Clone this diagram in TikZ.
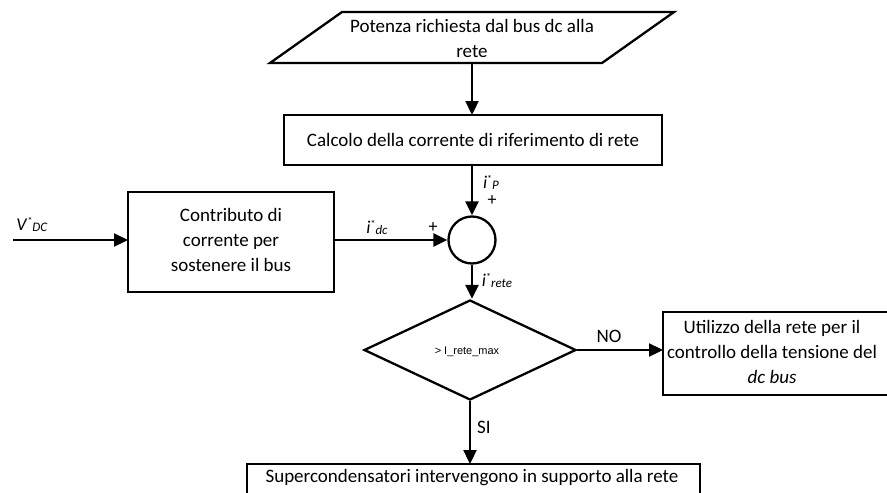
\documentclass[tikz,border=0pt]{standalone}
\usepackage{fontspec}
\setmainfont{Carlito}
\newfontfamily\arialfont{Liberation Sans}
\usetikzlibrary{arrows.meta,shapes.geometric}
\tikzset{
  box/.style={draw,line width=2.3pt,inner sep=0pt,outer sep=0pt},
  txt/.style={inner sep=0pt,align=center,font=\fontsize{19}{25}\selectfont},
  lbl/.style={inner sep=0pt,font=\fontsize{18}{20}\selectfont},
  arr/.style={line width=2.3pt,-{Triangle[length=14pt,width=13pt]}},
}
\newcommand{\curr}[2]{\textit{#1}\raisebox{6pt}{\fontsize{10}{10}\selectfont *}\raisebox{-1pt}{\fontsize{13}{13}\selectfont\textit{#2}}}
\begin{document}
\begin{tikzpicture}[x=1pt,y=-1pt]
\useasboundingbox (0,0) rectangle (887,493);
% input parallelogram
\draw[line width=2.3pt,line join=miter] (342,12) -- (674,12) -- (602,63) -- (270,63) -- cycle;
\node[txt] (inp) at (472,38) {Potenza richiesta dal bus dc alla\\rete};
\coordinate (inpb) at (472,63);
% calc box
\node[box,minimum width=378pt,minimum height=50pt] (calc) at (473,140) {};
\node[txt] (calct) at (473,140) {Calcolo della corrente di riferimento di rete};
% left box
\node[box,minimum width=206pt,minimum height=100pt] (contr) at (231,242) {};
\node[txt] (contrt) at (231,240) {Contributo di\\corrente per\\sostenere il bus};
\coordinate (vin) at (13,240);
% sum circle
\node[draw,circle,line width=2.3pt,minimum size=47pt,inner sep=0pt] (sum) at (472,240) {};
% diamond
\node[draw,diamond,line width=2.3pt,minimum width=212pt,minimum height=100pt,inner sep=0pt] (dec) at (470,350) {};
\node[inner sep=0pt,font=\arialfont\fontsize{11}{12}\selectfont] (dect) at (467,352) {> I\_rete\_max};
% right box
\node[box,minimum width=229pt,minimum height=83pt] (use) at (777.5,353.5) {};
\node[txt] (uset) at (772,352) {Utilizzo della rete per il\\controllo della tensione del\\\textit{dc bus}};
% bottom box
\node[box,minimum width=453pt,minimum height=44pt] (sup) at (473.5,486) {};
\node[txt] (supt) at (472,478) {Supercondensatori intervengono in supporto alla rete};
% connectors
\draw[arr] (inpb) -- (calc.north -| inpb);
\draw[arr] (calc.south -| sum) -- (sum.north);
\draw[arr] (vin) -- (contr.west |- vin);
\draw[arr] (contr.east |- sum) -- (sum.west);
\draw[arr] (sum.south) -- (sum.south |- dec.north);
\draw[arr] (dec.east) -- (use.west |- dec.east);
\draw[arr] (dec.south) -- (sup.north -| dec.south);
% labels
\node[lbl] (lv) at (32,224) {\curr{V}{DC}};
\node[lbl] (ldc) at (377,227) {\curr{i}{dc}};
\node[lbl] (lp) at (491,182) {\curr{i}{P}};
\node[lbl] (lr) at (497,280) {\curr{i}{rete}};
\node[lbl] (pl1) at (492,201) {+};
\node[lbl] (pl2) at (433,228) {+};
\node[txt] (lno) at (609,336) {NO};
\node[txt] (lsi) at (484,427) {SI};
\end{tikzpicture}
\end{document}
